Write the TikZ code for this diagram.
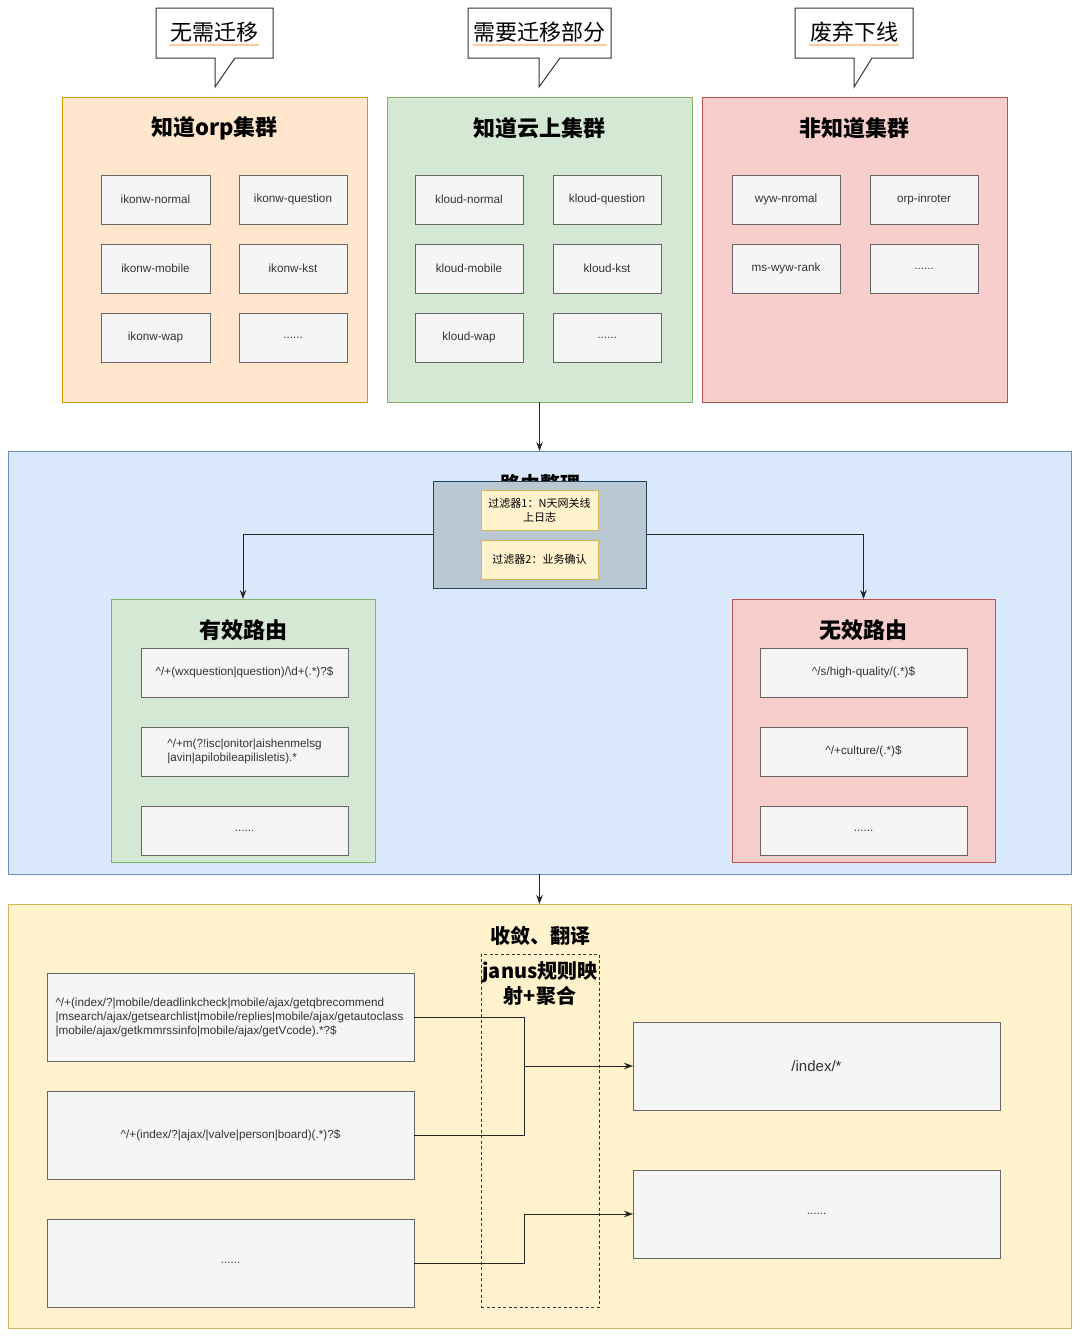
\documentclass[tikz,border=0pt]{standalone}
\usepackage{fontspec}
\setmainfont{Liberation Sans}
\newfontfamily\cjk{Noto Sans CJK SC}
\usetikzlibrary{arrows.meta}
\definecolor{orF}{HTML}{FFE6CC}\definecolor{orD}{HTML}{D79B00}
\definecolor{grF}{HTML}{D5E8D4}\definecolor{grD}{HTML}{82B366}
\definecolor{rdF}{HTML}{F8CECC}\definecolor{rdD}{HTML}{B85450}
\definecolor{blF}{HTML}{DAE8FC}\definecolor{blD}{HTML}{6C8EBF}
\definecolor{ylF}{HTML}{FFF2CC}\definecolor{ylD}{HTML}{D6B656}
\definecolor{gyF}{HTML}{F5F5F5}\definecolor{gyD}{HTML}{666666}
\definecolor{slF}{HTML}{BAC8D3}\definecolor{slD}{HTML}{23445D}
\definecolor{ulC}{HTML}{FFCC99}
\newcommand\rbox[7]{\node[#6, minimum width={(#4-#2)*1pt}, minimum height={(#5-#3)*1pt}] (#1) at ({(#2+#4)/2},{(#3+#5)/2}) {#7};}
\tikzset{
  base/.style={draw, line width=1pt, inner sep=0pt, outer sep=0pt, align=center},
  orbox/.style={base, fill=orF, draw=orD},
  grbox/.style={base, fill=grF, draw=grD},
  rdbox/.style={base, fill=rdF, draw=rdD},
  blbox/.style={base, fill=blF, draw=blD},
  ylbox/.style={base, fill=ylF, draw=ylD},
  slbox/.style={base, fill=slF, draw=slD},
  item/.style={base, fill=gyF, draw=gyD, font=\fontsize{11.7}{14}\selectfont, text=black!80},
  filt/.style={base, fill=ylF, draw=ylD, font=\cjk\fontsize{11}{13.5}\selectfont},
  title/.style={font=\cjk\bfseries\fontsize{22}{26}\selectfont, inner sep=0pt},
  stitle/.style={font=\cjk\bfseries\fontsize{20}{25}\selectfont, inner sep=0pt, align=center},
  callout/.style={draw=black!80, fill=white, line width=1pt},
  ctext/.style={font=\cjk\fontsize{22}{26}\selectfont, inner sep=0pt},
  conn/.style={draw=black!85, line width=1pt},
  arr/.style={conn, -{Stealth[length=9pt,width=6.5pt]}},
}
\begin{document}
\begin{tikzpicture}[x=1pt,y=-1pt]
\useasboundingbox (0,0) rectangle (1080,1336);
\fill[white] (0,0) rectangle (1080,1336);

% callouts
\draw[callout] (156,8) -- (273,8) -- (273,58) -- (235,58) -- (215,87) -- (215,58) -- (156,58) -- cycle;
\draw[ulC, line width=1.2pt] (169,45) -- (259,45);
\node[ctext] (c1) at (214.5,32) {无需迁移};
\draw[callout] (468,8) -- (611,8) -- (611,58) -- (560,58) -- (539,87) -- (539,58) -- (468,58) -- cycle;
\draw[ulC, line width=1.2pt] (473,45) -- (607,45);
\node[ctext] (c2) at (539.5,32) {需要迁移部分};
\draw[callout] (795,8) -- (913,8) -- (913,58) -- (872,58) -- (854,87) -- (854,58) -- (795,58) -- cycle;
\draw[ulC, line width=1.2pt] (809,45) -- (899,45);
\node[ctext] (c3) at (854,32) {废弃下线};

% clusters
\rbox{orp}{62}{97}{367}{402}{orbox}{}
\node[title] (torp) at (214.5,128) {知道orp集群};
\rbox{a1}{101}{175}{210}{224}{item}{ikonw-normal}
\rbox{a2}{239}{175}{347}{224}{item}{ikonw-question}
\rbox{a3}{101}{244}{210}{293}{item}{ikonw-mobile}
\rbox{a4}{239}{244}{347}{293}{item}{ikonw-kst}
\rbox{a5}{101}{313}{210}{362}{item}{ikonw-wap}
\rbox{a6}{239}{313}{347}{362}{item}{......}

\rbox{cloud}{387}{97}{692}{402}{grbox}{}
\node[title] (tcloud) at (539.5,128) {知道云上集群};
\rbox{b1}{415}{175}{523}{224}{item}{kloud-normal}
\rbox{b2}{553}{175}{661}{224}{item}{kloud-question}
\rbox{b3}{415}{244}{523}{293}{item}{kloud-mobile}
\rbox{b4}{553}{244}{661}{293}{item}{kloud-kst}
\rbox{b5}{415}{313}{523}{362}{item}{kloud-wap}
\rbox{b6}{553}{313}{661}{362}{item}{......}

\rbox{non}{702}{97}{1007}{402}{rdbox}{}
\node[title] (tnon) at (854.5,128) {非知道集群};
\rbox{d1}{732}{175}{840}{224}{item}{wyw-nromal}
\rbox{d2}{870}{175}{978}{224}{item}{orp-inroter}
\rbox{d3}{732}{244}{840}{293}{item}{ms-wyw-rank}
\rbox{d4}{870}{244}{978}{293}{item}{......}

% routing section
\rbox{route}{8}{451}{1071}{874}{blbox}{}
\draw[arr] (cloud.south) -- (route.north);
\node[stitle] (troute) at (540,484) {路由整理};
\rbox{filters}{433}{481}{646}{588}{slbox}{}
\rbox{f1}{481}{490}{598}{530}{filt}{过滤器1：N天网关线\\上日志}
\rbox{f2}{481}{540}{598}{579}{filt}{过滤器2：业务确认}

\rbox{valid}{111}{599}{375}{862}{grbox}{}
\node[title] (tvalid) at (243,630) {有效路由};
\rbox{v1}{141}{648}{348}{697}{item}{\textasciicircum/+(wxquestion|question)/\textbackslash d+(.*)?\$}
\rbox{v2}{141}{727}{348}{776}{item, align=left}{\textasciicircum/+m(?!isc|onitor|aishenmelsg\\|avin|apilobileapilisletis).*}
\rbox{v3}{141}{806}{348}{855}{item}{......}

\rbox{invalid}{732}{599}{995}{862}{rdbox}{}
\node[title] (tinvalid) at (863.5,630) {无效路由};
\rbox{i1}{760}{648}{967}{697}{item}{\textasciicircum/s/high-quality/(.*)\$}
\rbox{i2}{760}{727}{967}{776}{item}{\textasciicircum/+culture/(.*)\$}
\rbox{i3}{760}{806}{967}{855}{item}{......}

\draw[arr] (filters.west) -| (valid.north);
\draw[arr] (filters.east) -| (invalid.north);

% convergence section
\rbox{conv}{8}{904}{1071}{1328}{ylbox}{}
\draw[arr] (route.south) -- (conv.north);
\node[stitle] (tconv) at (540,936) {收敛、翻译};
\rbox{janus}{481}{954}{599}{1307}{base, draw=black!80, line width=0.8pt, dash pattern=on 3pt off 2.5pt, fill=none}{}
\node[stitle] (tjanus) at (540,984) {janus规则映\\射+聚合};

\rbox{l1}{47}{973}{414}{1061}{item, text width=350pt, align=left}{\textasciicircum/+(index/?|mobile/deadlinkcheck|mobile/ajax/getqbrecommend\\|msearch/ajax/getsearchlist|mobile/replies|mobile/ajax/getautoclass\\|mobile/ajax/getkmmrssinfo|mobile/ajax/getVcode).*?\$}
\rbox{l2}{47}{1091}{414}{1179}{item}{\textasciicircum/+(index/?|ajax/|valve|person|board)(.*)?\$}
\rbox{l3}{47}{1219}{414}{1307}{item}{......}
\rbox{r1}{633}{1022}{1000}{1110}{item, font=\fontsize{15}{18}\selectfont}{/index/*}
\rbox{r2}{633}{1170}{1000}{1258}{item}{......}

\coordinate (m1) at (524,1066);
\coordinate (m2) at (524,1214);
\draw[conn] (l1.east) -| (m1);
\draw[conn] (l2.east) -| (m1);
\draw[arr] (m1) -- (r1.west);
\draw[conn] (l3.east) -| (m2);
\draw[arr] (m2) -- (r2.west);
\end{tikzpicture}
\end{document}
